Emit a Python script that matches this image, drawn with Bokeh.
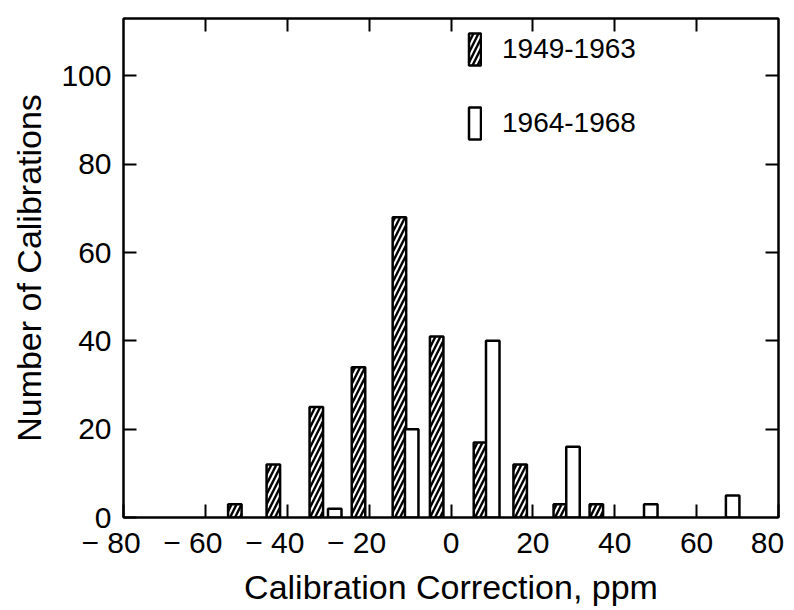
from bokeh.plotting import figure
from bokeh.models import (Range1d, LinearAxis, FixedTicker, Legend, LegendItem,
                          ColumnDataSource)
from bokeh.embed import file_html
from bokeh.resources import INLINE

# ---- data ----
hatched_x = [-52.8, -43.4, -32.9, -22.6, -12.6, -3.5, 7.2, 16.9, 26.7, 35.5]
hatched_counts = [3, 12, 25, 34, 68, 41, 17, 12, 3, 3]
open_x = [-28.4, -9.6, 10.2, 29.8, 48.8, 68.8]
open_counts = [2, 20, 40, 16, 3, 5]
label_1 = "1949-1963"
label_2 = "1964-1968"
x_ticks = [-80, -60, -40, -20, 0, 20, 40, 60, 80]
y_ticks = [0, 20, 40, 60, 80, 100]
x_title = "Calibration Correction, ppm"
y_title = "Number of Calibrations"

FONT = "Liberation Sans"
BAR_W = 3.3

p = figure(width=792, height=608, output_backend="svg", toolbar_location=None,
           x_range=Range1d(-80, 80), y_range=Range1d(0, 113),
           x_axis_location=None, y_axis_location=None,
           min_border_left=123, min_border_right=14, min_border_top=18,
           min_border_bottom=91)
p.grid.visible = False
p.outline_line_color = "black"
p.outline_line_width = 2
p.background_fill_color = "white"
p.border_fill_color = "white"

src_h = ColumnDataSource(dict(x=hatched_x, top=hatched_counts))
src_o = ColumnDataSource(dict(x=open_x, top=open_counts))

r_h = p.vbar(x="x", top="top", bottom=0, width=BAR_W, source=src_h,
             fill_color="white", line_color="black", line_width=2.5,
             hatch_pattern="right_diagonal_line", hatch_color="black",
             hatch_weight=2.4, hatch_scale=10)
r_o = p.vbar(x="x", top="top", bottom=0, width=BAR_W, source=src_o,
             fill_color="white", line_color="black", line_width=2.5)

def fmt(v):
    if v < 0:
        return "\u2212\u00a0" + str(-v) + "\u00a0\u00a0\u00a0"
    if v == 80:
        return "80\u00a0"
    return str(v)

def style(ax, ticks, labels=True):
    ax.ticker = FixedTicker(ticks=ticks)
    ax.minor_tick_line_color = None
    ax.major_tick_in = 13
    ax.major_tick_out = 0
    ax.major_tick_line_width = 2
    ax.major_tick_line_color = "black"
    ax.axis_line_color = "black"
    ax.axis_line_width = 2
    if labels:
        ax.major_label_text_font = FONT
        ax.major_label_text_font_size = "30px"
        ax.major_label_text_color = "black"
    else:
        ax.major_label_text_font_size = "0px"
        ax.major_label_standoff = 0
        ax.major_label_overrides = {t: "" for t in ticks}

xb = LinearAxis()
style(xb, x_ticks)
xb.major_label_overrides = {t: fmt(t) for t in x_ticks}
xb.major_label_standoff = 8
xb.axis_label = x_title
xb.axis_label_text_font = FONT
xb.axis_label_text_font_size = "34px"
xb.axis_label_text_font_style = "normal"
xb.axis_label_text_color = "black"
xb.axis_label_standoff = 6
p.add_layout(xb, "below")

yl = LinearAxis()
style(yl, y_ticks)
yl.major_label_standoff = 12
yl.axis_label = y_title
yl.axis_label_text_font = FONT
yl.axis_label_text_font_size = "34px"
yl.axis_label_text_font_style = "normal"
yl.axis_label_text_color = "black"
yl.axis_label_standoff = 10
p.add_layout(yl, "left")

xt = LinearAxis()
style(xt, [-60, -40, -20, 0, 20, 40, 60], labels=False)
p.add_layout(xt, "above")

yr = LinearAxis()
style(yr, [20, 40, 60, 80, 100], labels=False)
p.add_layout(yr, "right")

legend = Legend(items=[LegendItem(label=label_1, renderers=[r_h]),
                       LegendItem(label=label_2, renderers=[r_o])],
                location=(344, 374), orientation="vertical",
                glyph_width=15, glyph_height=40, label_standoff=20,
                spacing=34, padding=0, margin=0,
                label_text_font=FONT, label_text_font_size="28px",
                label_text_color="black",
                border_line_alpha=0, background_fill_alpha=0)
p.add_layout(legend, "center")

open("out.html", "w").write(file_html(p, INLINE))
